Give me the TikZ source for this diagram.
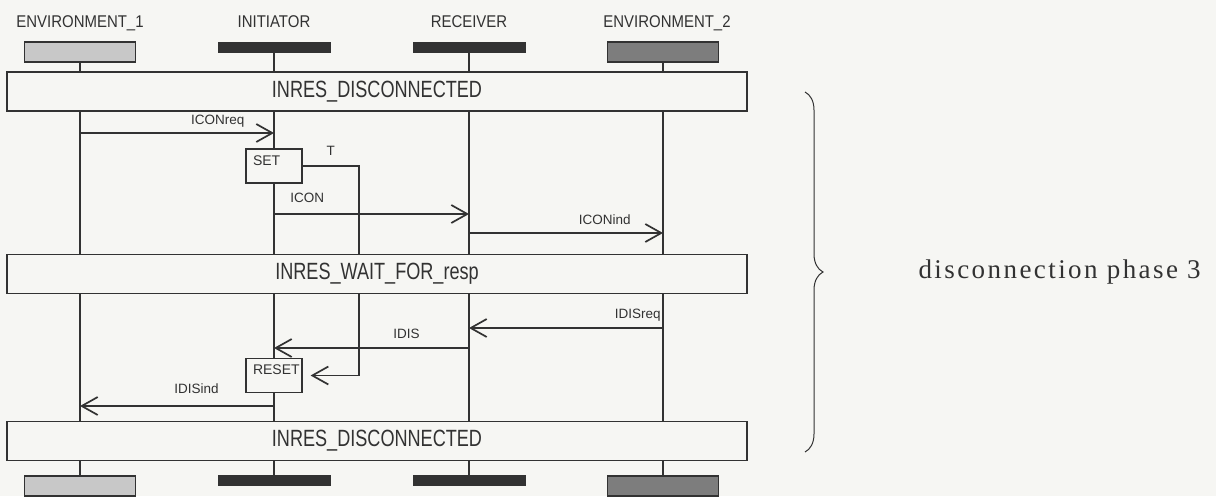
\documentclass[tikz,border=0pt]{standalone}
\usepackage{fontspec}
\newfontfamily\titlefont[FakeStretch=0.88]{Liberation Sans}
\newfontfamily\statefont[FakeStretch=0.77]{Liberation Sans}
\newfontfamily\lblfont{Liberation Sans}
\newfontfamily\capfont[LetterSpace=9]{Liberation Serif}
\usepackage{tikz}
\usetikzlibrary{arrows.meta, positioning, backgrounds, decorations.pathreplacing}
\definecolor{paper}{RGB}{246,246,243}
\definecolor{inkgray}{RGB}{50,50,50}
\definecolor{envlight}{RGB}{200,200,200}
\definecolor{envdark}{RGB}{125,125,125}
\definecolor{bardark}{RGB}{50,50,50}

\begin{document}
\begin{tikzpicture}[x=1pt, y=-1pt,
    envbox/.style={rectangle, draw=inkgray, line width=1.2pt, minimum width=111pt,
                   minimum height=20pt, inner sep=0pt},
    procbar/.style={rectangle, draw=bardark, fill=bardark, minimum width=112pt,
                    minimum height=10pt, inner sep=0pt},
    statebox/.style={rectangle, draw=inkgray, line width=1.3pt, fill=paper,
                     minimum width=740pt, minimum height=39pt, inner sep=0pt,
                     font=\statefont\fontsize{23.5}{26}\selectfont, text=inkgray},
    title/.style={font=\titlefont\fontsize{17}{20}\selectfont, text=inkgray, anchor=base},
    actbox/.style={rectangle, draw=inkgray, line width=1.2pt, fill=paper,
                   text width=42pt, align=left, inner xsep=7pt, inner ysep=4pt,
                   text height=12pt, text depth=14pt,
                   font=\lblfont\fontsize{14}{16}\selectfont, text=inkgray},
    lbl/.style={font=\lblfont\fontsize{13.5}{15}\selectfont, text=inkgray, inner sep=2pt,
                text height=9.5pt, text depth=2.5pt},
    life/.style={draw=inkgray, line width=1.2pt},
    msg/.style={draw=inkgray, line width=1.4pt,
                -{Straight Barb[length=16pt, width=18pt, line width=1.7pt]}}
]
\useasboundingbox (0,0) rectangle (1216,496);

% instance heads
\node[envbox, fill=envlight] (e1h) at (80,52) {};
\node[procbar] (inih) at (274,47) {};
\node[procbar] (rech) at (469,47) {};
\node[envbox, fill=envdark] (e2h) at (663,52) {};
\node[title] at (80,27) {ENVIRONMENT\_1};
\node[title] at (274,27) {INITIATOR};
\node[title] at (469,27) {RECEIVER};
\node[title] at (667,27) {ENVIRONMENT\_2};

% instance feet
\node[envbox, fill=envlight] (e1f) at (80,486) {};
\node[procbar] (inif) at (274,480.5) {};
\node[procbar] (recf) at (469,480.5) {};
\node[envbox, fill=envdark] (e2f) at (663,486) {};

% states
\node[statebox] (s1) at (377,91.5) {INRES\_DISCONNECTED};
\node[statebox] (s2) at (377,274) {INRES\_WAIT\_FOR\_resp};
\node[statebox] (s3) at (377,441) {INRES\_DISCONNECTED};

% timer actions
\node[actbox] (SET) at (274,166) {SET};
\node[actbox] (RESET) at (274,375.5) {RESET};
\coordinate (tcol) at (359,0);

\begin{scope}[on background layer]
  \fill[paper] (0,0) rectangle (1216,496);
  \draw[life] (e1h.south) -- (e1f.north);
  \draw[life] (inih.south) -- (inif.north);
  \draw[life] (rech.south) -- (recf.north);
  \draw[life] (e2h.south) -- (e2f.north);
  \draw[msg] (SET.east) -| node[lbl, above=5pt, pos=.25] {T} (tcol |- RESET.east)
        -- ([xshift=8pt]RESET.east);
\end{scope}

% messages
\draw[msg] (e1h |- 0,133) -- node[lbl, above=3pt, pos=.71] {ICONreq} (inih |- 0,133);
\draw[msg] (inih |- 0,214) -- node[lbl, above=6pt, pos=.17] {ICON} (rech |- 0,214);
\draw[msg] (rech |- 0,233) -- node[lbl, above=3pt, pos=.70] {ICONind} (e2h |- 0,233);
\draw[msg] (e2h |- 0,328) -- node[lbl, above=4pt, pos=.13] {IDISreq} (rech |- 0,328);
\draw[msg] (rech |- 0,348) -- node[lbl, above=4pt, pos=.32] {IDIS} (inih |- 0,348);
\draw[msg] (inih |- 0,406) -- node[lbl, above=7pt, pos=.40] {IDISind} (e1h |- 0,406);

% phase brace
\draw[inkgray, line width=1pt, decorate, decoration={brace, amplitude=18pt}]
    (805,92) -- (805,452);
\node[anchor=west, text=inkgray, font=\capfont\fontsize{27}{30}\selectfont] (phase)
    at (915,272) {disconnection phase 3};
\end{tikzpicture}
\end{document}
